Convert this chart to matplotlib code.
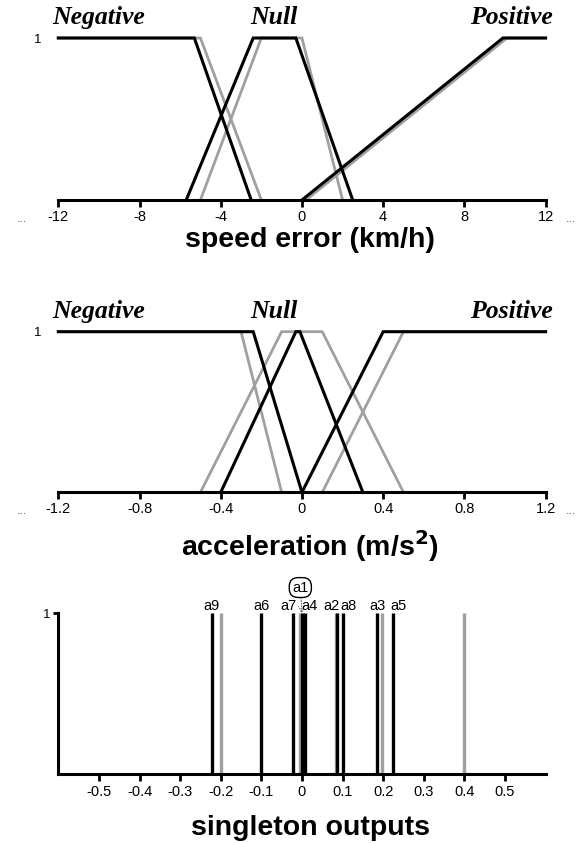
import matplotlib
matplotlib.use("Agg")
import matplotlib.pyplot as plt

# --- datos: funciones de pertenencia (error de velocidad, km/h) ---
speed_ticks = [-12, -8, -4, 0, 4, 8, 12]
speed_neg_x = [-12, -5.3, -2.5]
speed_neg_mu = [1, 1, 0]
speed_neg0_x = [-12, -5.0, -2.0]
speed_neg0_mu = [1, 1, 0]
speed_null_x = [-5.7, -2.4, -0.3, 2.5]
speed_null_mu = [0, 1, 1, 0]
speed_null0_x = [-5.0, -2.0, 0.0, 2.0]
speed_null0_mu = [0, 1, 1, 0]
speed_pos_x = [0.0, 9.9, 12]
speed_pos_mu = [0, 1, 1]
speed_pos0_x = [0.2, 10.1, 12]
speed_pos0_mu = [0, 1, 1]

# --- aceleracion (m/s^2) ---
acc_ticks = [-1.2, -0.8, -0.4, 0, 0.4, 0.8, 1.2]
acc_neg_x = [-1.2, -0.24, 0.0]
acc_neg_mu = [1, 1, 0]
acc_neg0_x = [-1.2, -0.3, -0.1]
acc_neg0_mu = [1, 1, 0]
acc_null_x = [-0.4, -0.03, -0.01, 0.3]
acc_null_mu = [0, 1, 1, 0]
acc_null0_x = [-0.5, -0.1, 0.1, 0.5]
acc_null0_mu = [0, 1, 1, 0]
acc_pos_x = [0.0, 0.4, 1.2]
acc_pos_mu = [0, 1, 1]
acc_pos0_x = [0.1, 0.5, 1.2]
acc_pos0_mu = [0, 1, 1]

# --- salidas singleton ---
out_ticks = [-0.5, -0.4, -0.3, -0.2, -0.1, 0, 0.1, 0.2, 0.3, 0.4, 0.5]
out_names = ["a9", "a6", "a7", "a1", "a4", "a2", "a8", "a3", "a5"]
out_values = [-0.222, -0.1, -0.022, 0.0, 0.007, 0.087, 0.1, 0.186, 0.224]
out_initial = [-0.2, -0.004, 0.083, 0.198, 0.4]

set_names = ["Negative", "Null", "Positive"]

BLACK = "#000000"
GRAY = "#a0a0a0"

fig = plt.figure(figsize=(5.83, 8.43), dpi=100)
plt.rcParams['font.family'] = ['Liberation Sans', 'DejaVu Sans']

left, width = 58.3 / 583, (545.6 - 58.3) / 583
ax1 = fig.add_axes([left, 1 - 200 / 843, width, 162 / 843])
ax2 = fig.add_axes([left, 1 - 492.3 / 843, width, 160.6 / 843])
ax3 = fig.add_axes([left, 1 - 774.3 / 843, width, 161 / 843])
XLAB_X = 310 / 583


def style_mf_axis(ax, ticks):
    for s in ["top", "right", "left"]:
        ax.spines[s].set_visible(False)
    ax.spines["bottom"].set_linewidth(2.2)
    ax.set_xlim(ticks[0], ticks[-1])
    ax.set_ylim(0, 1)
    ax.set_xticks(ticks)
    ax.set_xticklabels([f"{t:g}" for t in ticks])
    ax.tick_params(axis="x", length=5, width=2, pad=2, labelsize=10.5)
    ax.set_yticks([1])
    ax.tick_params(axis="y", length=0, pad=12, labelsize=9.5)
    # puntos suspensivos a ambos lados
    ax.text(-0.075, -0.115, "...", transform=ax.transAxes, ha="center",
            va="center", fontsize=9, color="#555555")
    ax.text(1.052, -0.115, "...", transform=ax.transAxes, ha="center",
            va="center", fontsize=9, color="#555555")
    for name, xf in zip(set_names, [0.0835, 0.4426, 0.929]):
        ax.text(xf, 1.125, name, transform=ax.transAxes, ha="center",
                va="center", fontsize=18.5, fontweight="bold", style="italic",
                family="Liberation Serif")


# panel 1: error de velocidad
for x, mu in [(speed_neg0_x, speed_neg0_mu), (speed_null0_x, speed_null0_mu),
              (speed_pos0_x, speed_pos0_mu)]:
    ax1.plot(x, mu, color=GRAY, lw=2.0, clip_on=False, solid_joinstyle="miter")
for x, mu in [(speed_neg_x, speed_neg_mu), (speed_null_x, speed_null_mu),
              (speed_pos_x, speed_pos_mu)]:
    ax1.plot(x, mu, color=BLACK, lw=2.2, clip_on=False, solid_joinstyle="miter")
style_mf_axis(ax1, speed_ticks)
fig.text(XLAB_X, 1 - 240 / 843, "speed error (km/h)", ha="center",
         va="center", fontsize=20.5, fontweight="bold")

# panel 2: aceleracion
for x, mu in [(acc_neg0_x, acc_neg0_mu), (acc_null0_x, acc_null0_mu),
              (acc_pos0_x, acc_pos0_mu)]:
    ax2.plot(x, mu, color=GRAY, lw=2.0, clip_on=False, solid_joinstyle="miter")
for x, mu in [(acc_neg_x, acc_neg_mu), (acc_null_x, acc_null_mu),
              (acc_pos_x, acc_pos_mu)]:
    ax2.plot(x, mu, color=BLACK, lw=2.2, clip_on=False, solid_joinstyle="miter")
style_mf_axis(ax2, acc_ticks)
fig.text(XLAB_X, 1 - 546 / 843, "acceleration (m/s$^\\mathbf{2}$)", ha="center",
         va="center", fontsize=20.5, fontweight="bold")

# panel 3: singletons
ax3.vlines(out_initial, 0, 1, color=GRAY, lw=2.4)
ax3.vlines(out_values, 0, 1, color=BLACK, lw=2.4)
for s in ["top", "right"]:
    ax3.spines[s].set_visible(False)
for s in ["left", "bottom"]:
    ax3.spines[s].set_linewidth(2.2)
ax3.set_xlim(-0.6, 0.6)
ax3.set_ylim(0, 1)
ax3.set_xticks(out_ticks)
ax3.set_xticklabels([f"{t:g}" for t in out_ticks])
ax3.tick_params(axis="x", length=5, width=2, pad=3, labelsize=10.5)
ax3.set_yticks([1])
ax3.tick_params(axis="y", length=3.5, width=2, pad=2, labelsize=9.5)

# desplazamiento horizontal de etiquetas (pixeles)
label_shift = {"a7": -5, "a4": 5, "a2": -6, "a8": 6, "a5": 6}
for name, v in zip(out_names, out_values):
    if name == "a1":
        ax3.annotate("a1", xy=(v, 1.0), xytext=(v - 0.004, 1.16),
                     ha="center", va="center", fontsize=10.5,
                     annotation_clip=False,
                     bbox=dict(boxstyle="round,pad=0.2,rounding_size=0.6",
                               fc="white", ec=BLACK, lw=1.0),
                     arrowprops=dict(arrowstyle="->", ls=":", lw=0.7,
                                     color="#555555", shrinkA=0, shrinkB=0))
    else:
        ax3.annotate(name, xy=(v, 1.045), xytext=(label_shift.get(name, 0), 0),
                     textcoords="offset pixels", ha="center", va="center",
                     fontsize=10.5, annotation_clip=False)
fig.text(XLAB_X, 1 - 828 / 843, "singleton outputs", ha="center", va="center",
         fontsize=20.5, fontweight="bold")

fig.savefig("out.png", dpi=100)
